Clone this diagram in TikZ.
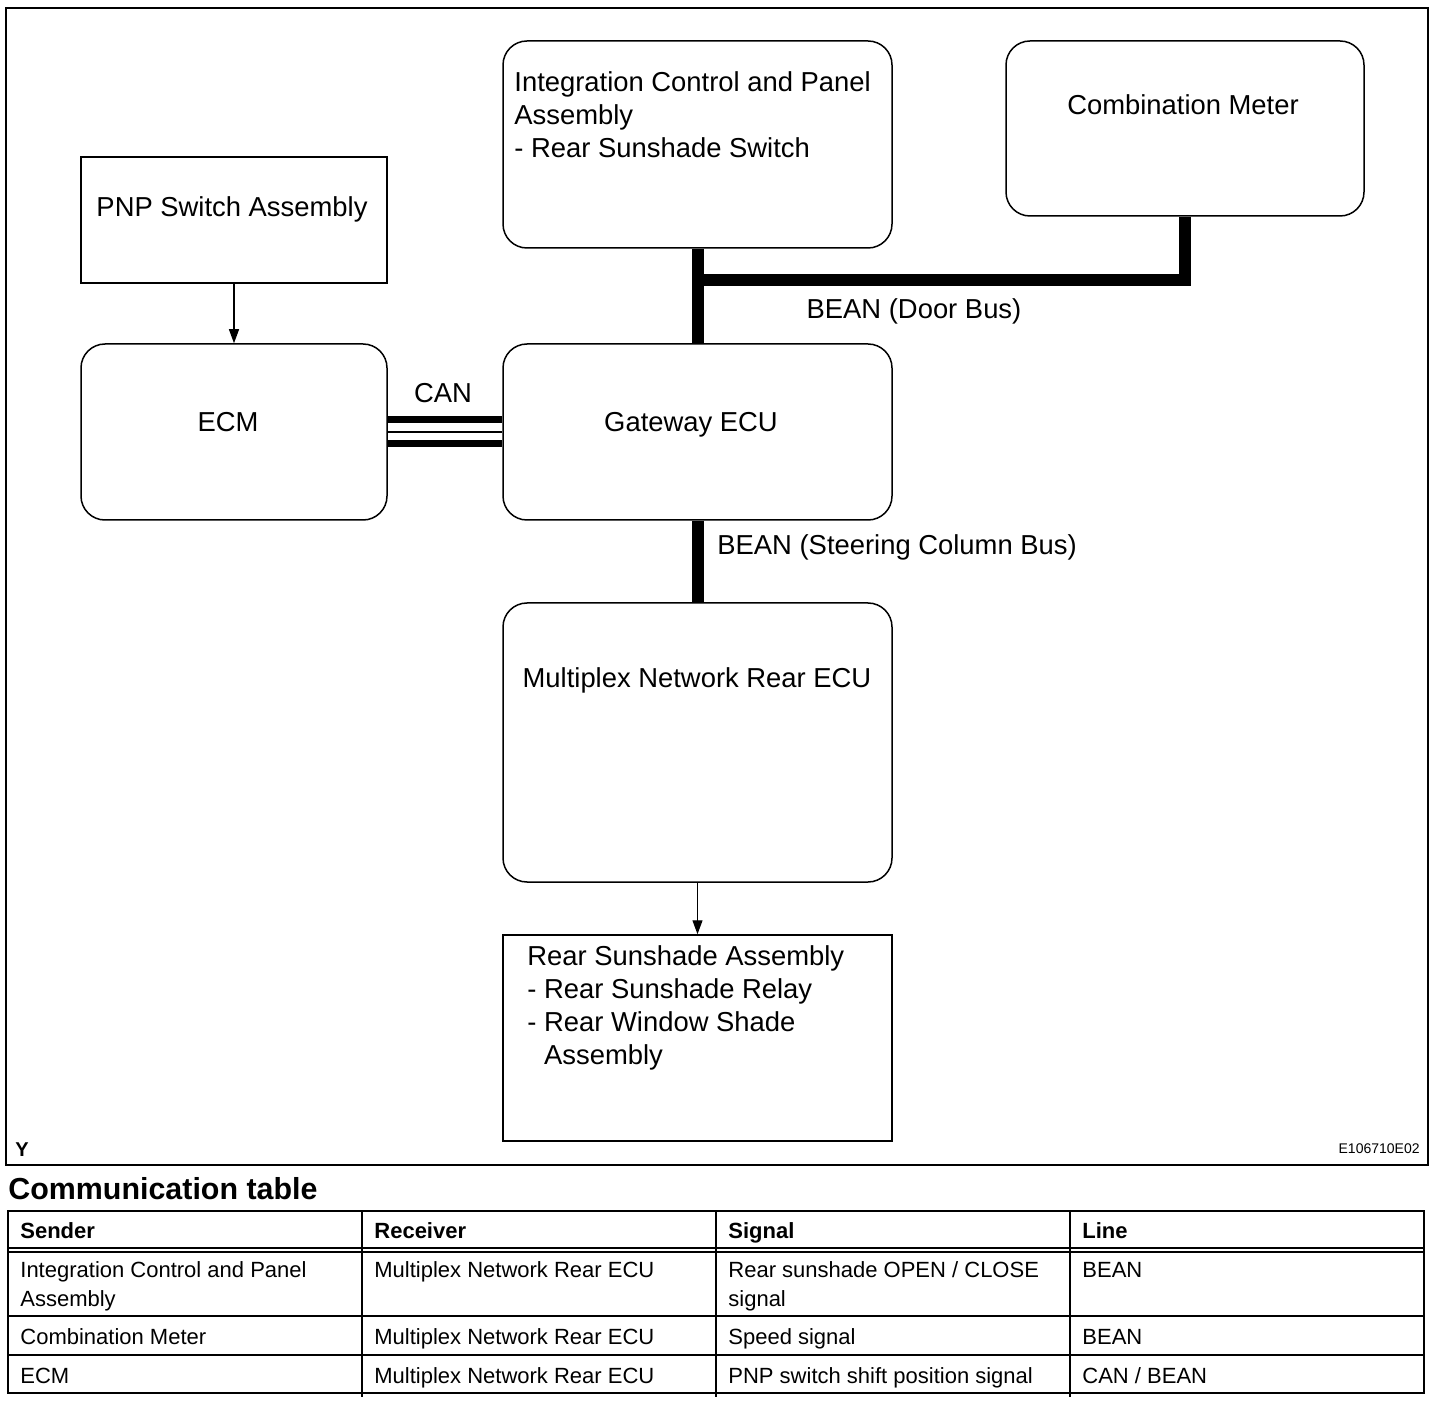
\documentclass[tikz,border=0pt]{standalone}
\usepackage{fontspec}
\setmainfont{Liberation Sans}
\usetikzlibrary{arrows.meta}
\begin{document}
\begin{tikzpicture}[x=0.5pt,y=-0.5pt,
  box/.style={draw, line width=0.75pt, inner sep=0pt},
  rbox/.style={box, rounded corners=12pt},
  dtext/.style={font=\fontsize{13.7}{16.5}\selectfont, inner sep=0pt, text height=0.72em, text depth=0pt, yshift=-1.25pt},
  ttext/.style={font=\fontsize{11}{14.5}\selectfont, inner sep=0pt, text height=0.72em, text depth=0pt, anchor=west, align=left, yshift=-1pt},
  thead/.style={ttext, font=\fontsize{11}{14.5}\selectfont\bfseries},
  bus/.style={line width=6pt},
  arr/.style={-{Triangle[length=7pt,width=5pt]}, line width=0.6pt},
  tline/.style={line width=0.75pt}]
\useasboundingbox (0,0) rectangle (1456,1406);
% frame
\draw[line width=1pt] (6,8) rectangle (1428,1165);
% boxes
\node[box, minimum width=153pt, minimum height=63pt] (pnp) at (234,220) {};
\node[rbox, minimum width=153pt, minimum height=88pt] (ecm) at (234,432) {};
\node[rbox, minimum width=194.5pt, minimum height=103.5pt] (integ) at (697.5,144.5) {};
\node[rbox, minimum width=179pt, minimum height=87.5pt] (comb) at (1185,128.5) {};
\node[rbox, minimum width=194.5pt, minimum height=88pt] (gw) at (697.5,432) {};
\node[rbox, minimum width=194.5pt, minimum height=139.5pt] (mux) at (697.5,742.5) {};
\node[box, minimum width=194.5pt, minimum height=103pt] (rss) at (697.5,1038) {};
% texts (for multi-line texts the anchor refers to the last line)
\node[dtext] (tpnp) at (232,207) {PNP Switch Assembly};
\node[dtext] (tecm) at (228,422) {ECM};
\node[dtext, anchor=west, align=left] (tinteg) at (514,148) {Integration Control and Panel\\Assembly\\- Rear Sunshade Switch};
\node[dtext] (tcomb) at (1183,105) {Combination Meter};
\node[dtext] (tgw) at (691,422) {Gateway ECU};
\node[dtext] (tmux) at (697,678) {Multiplex Network Rear ECU};
\node[dtext, anchor=west, align=left] (trss) at (527,1055) {Rear Sunshade Assembly\\- Rear Sunshade Relay\\- Rear Window Shade\\\phantom{- }Assembly};
\node[dtext] (tcan) at (443,393) {CAN};
\node[dtext] (tdoor) at (914,309) {BEAN (Door Bus)};
\node[dtext, anchor=west] (tsteer) at (717,545) {BEAN (Steering Column Bus)};
\node[font=\fontsize{10}{12}\selectfont\bfseries, inner sep=0pt, text height=0.72em, text depth=0pt] (ty) at (22,1149) {Y};
\node[font=\fontsize{7}{8}\selectfont, inner sep=0pt, text height=0.72em, text depth=0pt, anchor=east] (tcode) at (1420,1146) {E106710E02};
% connectors
\draw[arr] (pnp.south) -- (ecm.north);
\draw[arr] (mux.south) -- (rss.north);
\coordinate (busj) at (697.5,280);
\draw[bus] (integ.south) -- (gw.north);
\draw[bus] (busj) -| (comb.south);
\draw[bus] (gw.south) -- (mux.north);
\draw[line width=3.5pt] ([yshift=6pt]ecm.east) -- ([yshift=6pt]gw.west);
\draw[line width=1pt] (ecm.east) -- (gw.west);
\draw[line width=3.5pt] ([yshift=-6pt]ecm.east) -- ([yshift=-6pt]gw.west);
% table
\node[font=\fontsize{15.2}{18}\selectfont\bfseries, inner sep=0pt, text height=0.72em, text depth=0pt, anchor=west] (ttitle) at (8,1192) {Communication table};
\draw[line width=1pt] (8,1211) rectangle (1424,1393);
\draw[tline] (8,1248) -- (1424,1248);
\draw[tline] (8,1252) -- (1424,1252);
\draw[tline] (8,1316) -- (1424,1316);
\draw[tline] (8,1355) -- (1424,1355);
\foreach \cx in {362,716,1070} \draw[tline] (\cx,1211) -- (\cx,1397);
\node[thead] (h1) at (20,1229) {Sender};
\node[thead] (h2) at (374,1229) {Receiver};
\node[thead] (h3) at (728,1229) {Signal};
\node[thead] (h4) at (1082,1229) {Line};
\node[ttext] (c11) at (20,1297) {Integration Control and Panel\\Assembly};
\node[ttext] (c12) at (374,1268) {Multiplex Network Rear ECU};
\node[ttext] (c13) at (728,1297) {Rear sunshade OPEN / CLOSE\\signal};
\node[ttext] (c14) at (1082,1268) {BEAN};
\node[ttext] (c21) at (20,1335) {Combination Meter};
\node[ttext] (c22) at (374,1335) {Multiplex Network Rear ECU};
\node[ttext] (c23) at (728,1335) {Speed signal};
\node[ttext] (c24) at (1082,1335) {BEAN};
\node[ttext] (c31) at (20,1374) {ECM};
\node[ttext] (c32) at (374,1374) {Multiplex Network Rear ECU};
\node[ttext] (c33) at (728,1374) {PNP switch shift position signal};
\node[ttext] (c34) at (1082,1374) {CAN / BEAN};
\end{tikzpicture}
\end{document}
